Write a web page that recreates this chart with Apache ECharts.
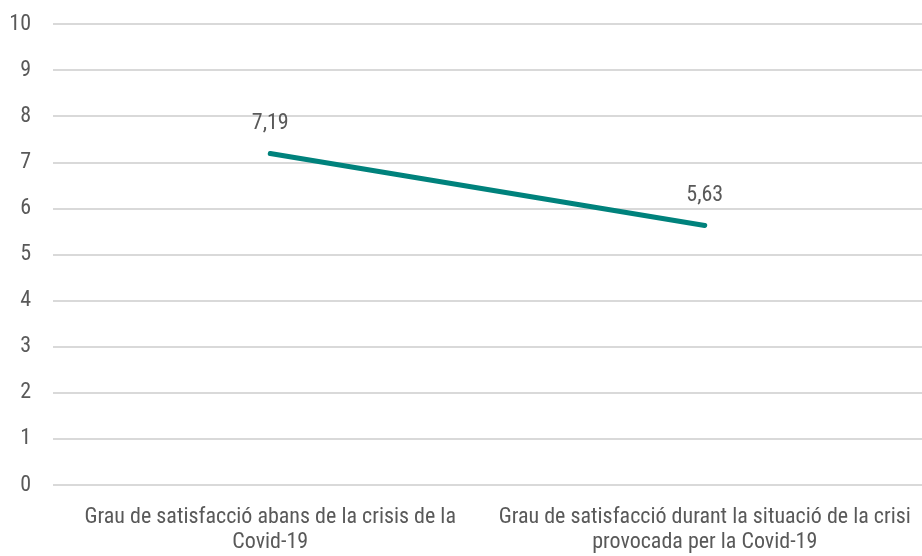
<!DOCTYPE html>
<html>
<head>
<meta charset="utf-8">
<script src="https://cdn.jsdelivr.net/npm/echarts@6/dist/echarts.min.js"></script>
<style>
  html, body { margin: 0; padding: 0; background: #fff; }
  #main { width: 922px; height: 556px; }
</style>
</head>
<body>
<div id="main"></div>
<script>
'use strict'
// categories and values
var categories = [
    'Grau de satisfacció abans de la crisis de la\nCovid-19',
    'Grau de satisfacció durant la situació de la crisi\nprovocada per la Covid-19'
];
var satisfaccio = [7.19, 5.63];
var yTicks = [0, 1, 2, 3, 4, 5, 6, 7, 8, 9, 10];

var font = "'Liberation Sans Narrow', 'Arial Narrow', 'Roboto Condensed', sans-serif";
var textColor = '#595959';
var lineColor = '#00827c';

var option = {
    animation: false,
    grid: {
        left: 53,
        right: 0,
        top: 24,
        bottom: 71
    },
    xAxis: {
        type: 'category',
        data: categories,
        axisLine: { show: false },
        axisTick: { show: false },
        axisLabel: {
            color: textColor,
            fontFamily: font,
            fontSize: 22,
            lineHeight: 25,
            margin: 20,
            interval: 0
        }
    },
    yAxis: {
        type: 'value',
        min: yTicks[0],
        max: yTicks[yTicks.length - 1],
        interval: 1,
        axisLine: { show: false },
        axisTick: { show: false },
        axisLabel: {
            color: textColor,
            fontFamily: font,
            fontSize: 22,
            margin: 22
        },
        splitLine: {
            lineStyle: { color: '#d9d9d9', width: 2 }
        }
    },
    series: [
        {
            type: 'line',
            data: satisfaccio,
            symbol: 'circle',
            symbolSize: 4,
            showSymbol: true,
            itemStyle: { color: lineColor, borderWidth: 0 },
            lineStyle: { color: lineColor, width: 5, cap: 'round' },
            label: {
                show: true,
                position: 'top',
                distance: 17,
                color: textColor,
                fontFamily: font,
                fontSize: 22,
                formatter: function (p) {
                    return p.value.toFixed(2).replace('.', ',');
                }
            }
        }
    ]
};

var myChart = echarts.init(document.getElementById('main'));
myChart.setOption(option);
</script>
</body>
</html>
